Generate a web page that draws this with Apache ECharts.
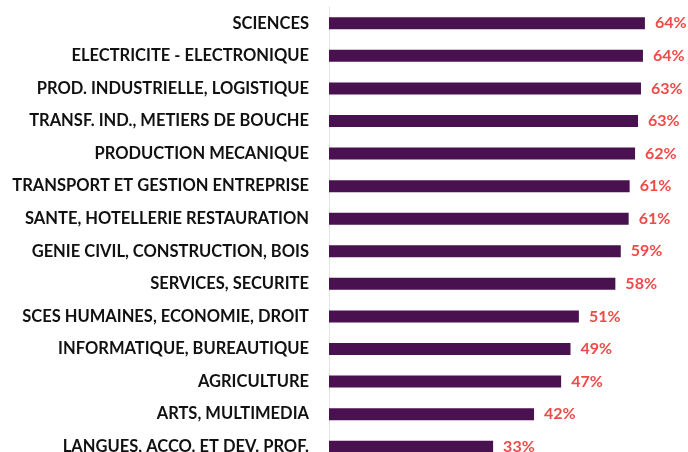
<!DOCTYPE html>
<html>
<head>
<meta charset="utf-8">
<script src="https://cdn.jsdelivr.net/npm/echarts@6/dist/echarts.min.js"></script>
<style>
  html, body { margin: 0; padding: 0; background: #fff; }
  #chart { width: 688px; height: 452px; }
</style>
</head>
<body>
<div id="chart"></div>
<script>
// filières, du haut vers le bas
const categories = [
  'SCIENCES',
  'ELECTRICITE - ELECTRONIQUE',
  'PROD. INDUSTRIELLE, LOGISTIQUE',
  'TRANSF. IND., METIERS DE BOUCHE',
  'PRODUCTION MECANIQUE',
  'TRANSPORT ET GESTION ENTREPRISE',
  'SANTE, HOTELLERIE RESTAURATION',
  'GENIE CIVIL, CONSTRUCTION, BOIS',
  'SERVICES, SECURITE',
  'SCES HUMAINES, ECONOMIE, DROIT',
  'INFORMATIQUE, BUREAUTIQUE',
  'AGRICULTURE',
  'ARTS, MULTIMEDIA',
  'LANGUES, ACCO. ET DEV. PROF.'
]
const values = [64.1, 63.7, 63.3, 62.7, 62.1, 61.0, 60.8, 59.2, 58.1, 50.7, 49.0, 47.1, 41.6, 33.3]

const chart = echarts.init(document.getElementById('chart'))
const option = {
  animation: false,
  grid: {
    left: 329,
    top: 7,
    width: 345,
    height: 456,
    outerBoundsMode: 'none'
  },
  xAxis: {
    type: 'value',
    min: 0,
    max: 70,
    show: false
  },
  yAxis: {
    type: 'category',
    data: categories,
    inverse: true,
    axisLine: { show: true, lineStyle: { color: '#e3e3e3', width: 1 } },
    axisTick: { show: false },
    axisLabel: {
      margin: 20,
      color: '#111',
      fontFamily: 'Lato',
      fontWeight: 'bold',
      fontSize: 16.5
    }
  },
  series: [
    {
      type: 'bar',
      data: values,
      barWidth: 12,
      itemStyle: { color: '#4a1150' },
      label: {
        show: true,
        position: 'right',
        distance: 10,
        color: '#f04a48',
        fontFamily: 'Lato',
        fontWeight: 'bold',
        fontSize: 16,
        formatter: p => Math.round(p.value) + '%'
      }
    }
  ]
}
chart.setOption(option)
</script>
</body>
</html>
